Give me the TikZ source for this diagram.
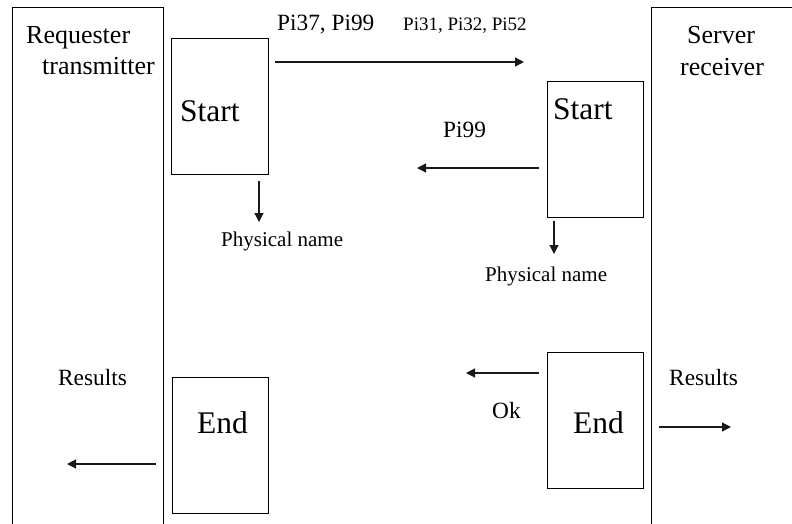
\documentclass[tikz,border=0pt]{standalone}
\usepackage{fontspec}
\setmainfont{Liberation Serif}
\usetikzlibrary{arrows.meta}
\begin{document}
\begin{tikzpicture}[x=1pt,y=-1pt,
  box/.style={draw=black, line width=0.9pt, inner sep=0pt, outer sep=0pt, anchor=north west},
  txt/.style={inner sep=0pt, anchor=base west},
  huge/.style={font=\fontsize{31.5}{36}\selectfont},
  big/.style={font=\fontsize{26}{30}\selectfont},
  mid/.style={font=\fontsize{23.3}{27}\selectfont},
  lbl/.style={font=\fontsize{21}{24}\selectfont},
  small/.style={font=\fontsize{19}{22}\selectfont},
  arr/.style={draw=black!90, line width=1.2pt, -{Triangle[length=9pt,width=9pt]}}]
\useasboundingbox (0,0) rectangle (792,523);
\clip (0,0) rectangle (792,523);
% lanes
\node[box, minimum width=151pt, minimum height=540pt] (laneL) at (12,7) {};
\node[box, minimum width=160pt, minimum height=540pt] (laneR) at (651,7) {};
% boxes
\node[box, minimum width=97pt, minimum height=136pt] (startL) at (171,38) {};
\node[box, minimum width=96pt, minimum height=136pt] (startR) at (547,81) {};
\node[box, minimum width=96pt, minimum height=136pt] (endL) at (172,377) {};
\node[box, minimum width=96pt, minimum height=136pt] (endR) at (547,352) {};
% texts
\node[txt, big] (req) at (26,43) {Requester};
\node[txt, big] (trans) at (42,74) {transmitter};
\node[txt, big] (serv) at (687,43) {Server};
\node[txt, big] (recv) at (680,75) {receiver};
\node[txt, huge] (tStartL) at (180,121) {Start};
\node[txt, huge] (tStartR) at (553,119) {Start};
\node[txt, huge] (tEndL) at (197,433) {End};
\node[txt, huge] (tEndR) at (573,433) {End};
\node[txt, mid] (p3799) at (277,30) {Pi37, Pi99};
\node[txt, small] (p313252) at (403,30) {Pi31, Pi32, Pi52};
\node[txt, mid] (p99) at (443,137) {Pi99};
\node[txt, lbl] (physL) at (221,246) {Physical name};
\node[txt, lbl] (physR) at (485,281) {Physical name};
\node[txt, mid] (resL) at (58,385) {Results};
\node[txt, mid] (resR) at (669,385) {Results};
\node[txt, mid] (ok) at (492,418) {Ok};
% arrow endpoints
\coordinate (a1s) at (275,62);  \coordinate (a1e) at (524,62);
\coordinate (a2s) at (539,168); \coordinate (a2e) at (417,168);
\coordinate (d1s) at (259,181); \coordinate (d1e) at (259,222);
\coordinate (d2s) at (554,221); \coordinate (d2e) at (554,254);
\coordinate (a3s) at (539,373); \coordinate (a3e) at (466,373);
\coordinate (a4s) at (156,464); \coordinate (a4e) at (67,464);
\coordinate (a5s) at (659,427); \coordinate (a5e) at (731,427);
\draw[arr] (a1s) -- (a1e);
\draw[arr] (a2s) -- (a2e);
\draw[arr] (d1s) -- (d1e);
\draw[arr] (d2s) -- (d2e);
\draw[arr] (a3s) -- (a3e);
\draw[arr] (a4s) -- (a4e);
\draw[arr] (a5s) -- (a5e);
\end{tikzpicture}
\end{document}
